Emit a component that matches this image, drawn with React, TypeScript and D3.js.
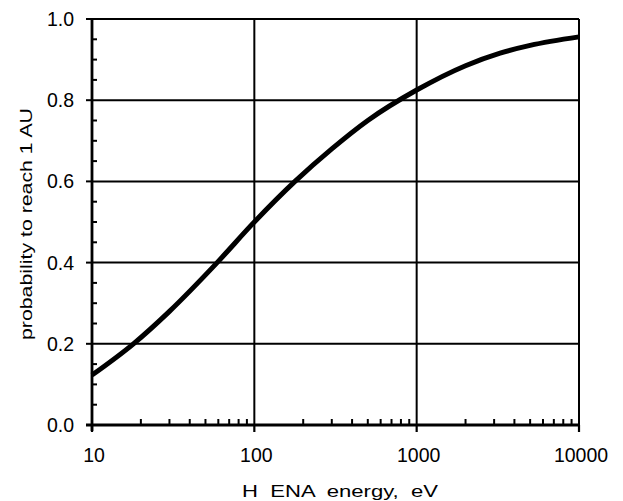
import React from "react";
import * as d3 from "d3";

const energies = [10, 18, 30, 59, 100, 178, 300, 500, 1000, 2000, 3266, 5000, 10000];
const probs = [0.123, 0.2, 0.28, 0.4, 0.5, 0.6, 0.68, 0.75, 0.825, 0.885, 0.916, 0.935, 0.956];
const xMajor = [10, 100, 1000, 10000];
const yMajor = [0, 0.2, 0.4, 0.6, 0.8, 1.0];
const xTitle = "H  ENA  energy,  eV";
const yTitle = "probability to reach 1 AU";

const W = 623, H = 501;
const L = 92, R = 579, T = 19, B = 425;

export default function App() {
  const x = d3.scaleLog().domain([10, 10000]).range([L, R]);
  const y = d3.scaleLinear().domain([0, 1]).range([B, T]);
  const xMinor: number[] = [];
  for (let d = 10; d < 10000; d *= 10) for (let k = 2; k <= 9; k++) xMinor.push(d * k);
  const yMinor: number[] = d3.range(0, 1.0001, 0.05).filter((v) => Math.abs(v * 5 - Math.round(v * 5)) > 1e-6);
  const line = d3
    .line<number>()
    .x((d, i) => x(energies[i]))
    .y((d) => y(d))
    .curve(d3.curveMonotoneX);
  const font = "'Liberation Sans', Arial, sans-serif";
  return (
    <svg width={W} height={H} style={{ position: "absolute", left: 0, top: 0, background: "#fff" }} fontFamily={font}>
      {yMajor.slice(1).map((v) => (
        <line key={"hg" + v} x1={L} x2={R} y1={y(v)} y2={y(v)} stroke="#000" strokeWidth={2} />
      ))}
      {xMajor.slice(1).map((v) => (
        <line key={"vg" + v} x1={x(v)} x2={x(v)} y1={T} y2={B} stroke="#000" strokeWidth={2} />
      ))}
      <line x1={L} x2={L} y1={T} y2={B + 6} stroke="#000" strokeWidth={2.8} />
      <line x1={L - 6} x2={R} y1={B} y2={B} stroke="#000" strokeWidth={2.8} />
      {yMajor.map((v) => (
        <line key={"yt" + v} x1={L - 6} x2={L} y1={y(v)} y2={y(v)} stroke="#000" strokeWidth={2} />
      ))}
      {yMinor.map((v) => (
        <line key={"ym" + v} x1={L} x2={L + 5} y1={y(v)} y2={y(v)} stroke="#000" strokeWidth={2} />
      ))}
      {xMajor.map((v) => (
        <line key={"xt" + v} x1={x(v)} x2={x(v)} y1={B} y2={B + 7} stroke="#000" strokeWidth={2.2} />
      ))}
      {xMinor.map((v) => (
        <line key={"xm" + v} x1={x(v)} x2={x(v)} y1={B} y2={B - 6} stroke="#000" strokeWidth={2} />
      ))}
      <path d={line(probs) || ""} fill="none" stroke="#000" strokeWidth={5} />
      {yMajor.map((v) => (
        <text key={"yl" + v} x={L - 18} y={y(v)} dy="0.36em" textAnchor="end" fontSize={19.5}>
          {v.toFixed(1)}
        </text>
      ))}
      {xMajor.map((v) => (
        <text key={"xl" + v} x={x(v) + 2} y={B + 37} textAnchor="middle" fontSize={19.5}>
          {String(v)}
        </text>
      ))}
      <text
        x={242}
        y={497}
        fontSize={17}
        textLength={196}
        lengthAdjust="spacingAndGlyphs"
        style={{ whiteSpace: "pre" }}
      >
        {xTitle}
      </text>
      <text
        transform={`translate(32, 340) rotate(-90)`}
        fontSize={17}
        textLength={232}
        lengthAdjust="spacingAndGlyphs"
      >
        {yTitle}
      </text>
    </svg>
  );
}
